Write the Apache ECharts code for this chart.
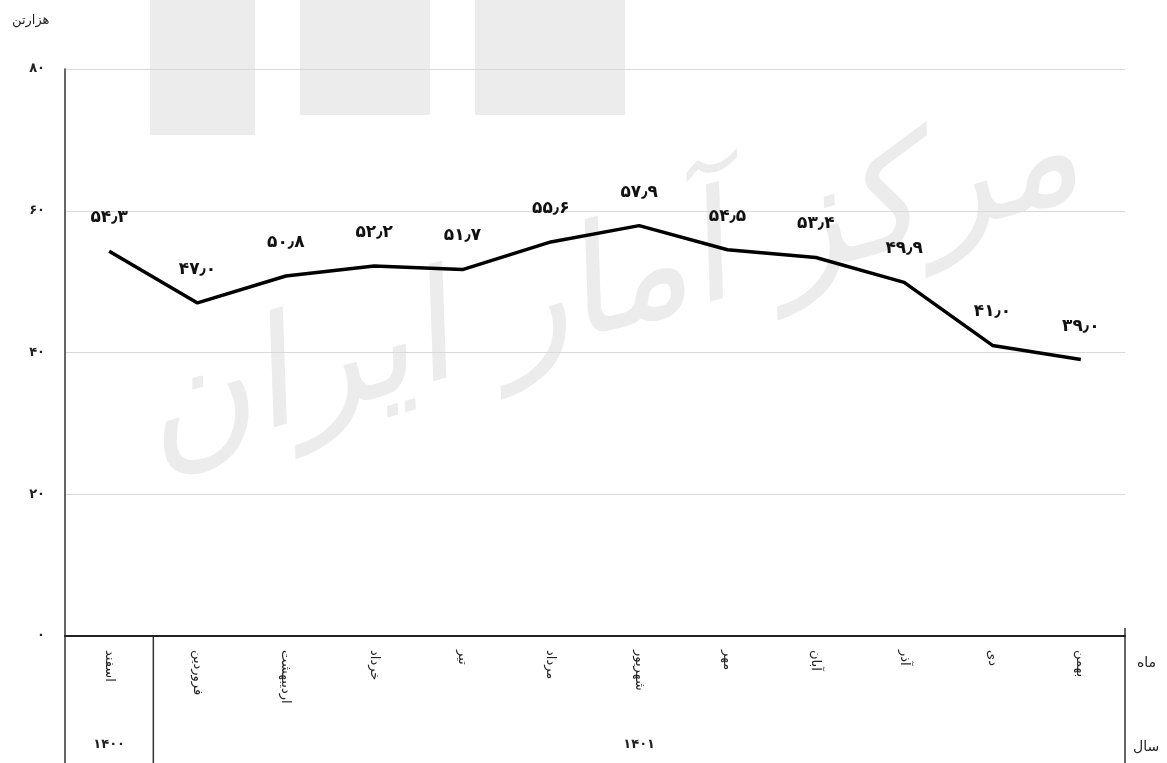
<!DOCTYPE html>
<html>
<head>
<meta charset="utf-8">
<style>
  html, body { margin: 0; padding: 0; background: #fff; }
  #main { width: 1167px; height: 763px; }
</style>
<script src="https://cdn.jsdelivr.net/npm/echarts@6/dist/echarts.min.js"></script>
</head>
<body>
<div id="main"></div>
<script>
var months = ['اسفند', 'فروردین', 'اردیبهشت', 'خرداد', 'تیر', 'مرداد', 'شهریور', 'مهر', 'آبان', 'آذر', 'دی', 'بهمن'];
var values = [54.3, 47.0, 50.8, 52.2, 51.7, 55.6, 57.9, 54.5, 53.4, 49.9, 41.0, 39.0];
// year groups: first and last month index of each year
var years = [{ start: 0, end: 0, label: '1400' }, { start: 1, end: 11, label: '1401' }];

var font = 'DejaVu Sans';

function fa(v) {
  return String(v).replace(/\./g, '٫').replace(/[0-9]/g, function (d) {
    return '۰۱۲۳۴۵۶۷۸۹'[+d];
  });
}

var chartDom = document.getElementById('main');
var myChart = echarts.init(chartDom);
var option;

option = {
  animation: false,
  textStyle: { fontFamily: font },
  grid: { left: 65, right: 42, top: 69, bottom: 127 },
  xAxis: {
    type: 'category',
    data: months,
    boundaryGap: true,
    axisLine: { lineStyle: { color: '#222', width: 2 } },
    axisTick: { alignWithLabel: true, inside: true, length: 5, lineStyle: { color: '#222' } },
    axisLabel: { rotate: -90, margin: 14, color: '#222', fontSize: 13, fontFamily: font }
  },
  yAxis: {
    type: 'value',
    min: 0,
    max: 80,
    interval: 20,
    axisLine: { show: true, lineStyle: { color: '#333', width: 1.5 } },
    axisTick: { show: false },
    splitLine: { lineStyle: { color: '#d9d9d9' } },
    axisLabel: { margin: 20, color: '#222', fontSize: 13, fontWeight: 'bold', fontFamily: font, formatter: function (v) { return fa(v); } }
  },
  series: [
    {
      type: 'line',
      data: values,
      symbol: 'circle',
      symbolSize: 2,
      showSymbol: true,
      itemStyle: { color: 'rgba(0,0,0,0)' },
      lineStyle: { color: '#000', width: 3.5 },
      z: 5,
      label: {
        show: true,
        position: 'top',
        distance: 24,
        color: '#111',
        fontSize: 17,
        fontWeight: 'bold',
        fontFamily: font,
        formatter: function (p) { return fa(values[p.dataIndex].toFixed(1)); }
      }
    }
  ]
};

option && myChart.setOption(option);

// background watermark, axis title and the month/year table under the axis
function drawExtras() {
  var bottom = 763;
  var y0 = myChart.convertToPixel({ yAxisIndex: 0 }, 0);
  var left = myChart.convertToPixel({ xAxisIndex: 0 }, 0);
  var step = myChart.convertToPixel({ xAxisIndex: 0 }, 1) - left;
  var gl = left - step / 2;
  var gr = gl + step * months.length;
  var els = [
    { type: 'rect', shape: { x: 150, y: 0, width: 105, height: 135 }, style: { fill: '#ececec' }, z: -10 },
    { type: 'rect', shape: { x: 300, y: 0, width: 130, height: 115 }, style: { fill: '#ececec' }, z: -10 },
    { type: 'rect', shape: { x: 475, y: 0, width: 150, height: 115 }, style: { fill: '#ececec' }, z: -10 },
    {
      type: 'text', x: 610, y: 290, rotation: 0.28, z: -10,
      style: { text: 'مرکز آمار ایران', fill: '#ececec', font: 'italic 150px "DejaVu Sans"', align: 'center', verticalAlign: 'middle' }
    },
    { type: 'text', x: 12, y: 14, style: { text: 'هزارتن', fill: '#222', font: '13px "DejaVu Sans"' } },
    { type: 'line', shape: { x1: gl, y1: y0, x2: gl, y2: bottom }, style: { stroke: '#333', lineWidth: 1.5 } },
    { type: 'line', shape: { x1: gr, y1: y0 - 8, x2: gr, y2: bottom }, style: { stroke: '#333', lineWidth: 1.5 } },
    { type: 'text', x: gr + 12, y: y0 + 27, style: { text: 'ماه', fill: '#222', font: '14px "DejaVu Sans"', verticalAlign: 'middle' } },
    { type: 'text', x: gr + 8, y: y0 + 111, style: { text: 'سال', fill: '#222', font: '14px "DejaVu Sans"', verticalAlign: 'middle' } }
  ];
  years.forEach(function (g, i) {
    var xa = gl + step * g.start;
    var xb = gl + step * (g.end + 1);
    if (i > 0) {
      els.push({ type: 'line', shape: { x1: xa, y1: y0, x2: xa, y2: bottom }, style: { stroke: '#333', lineWidth: 1.5 } });
    }
    els.push({
      type: 'text', x: (xa + xb) / 2, y: y0 + 109,
      style: { text: fa(g.label), fill: '#222', font: 'bold 13px "DejaVu Sans"', align: 'center', verticalAlign: 'middle' }
    });
  });
  myChart.setOption({ graphic: els });
}

drawExtras();
</script>
</body>
</html>
